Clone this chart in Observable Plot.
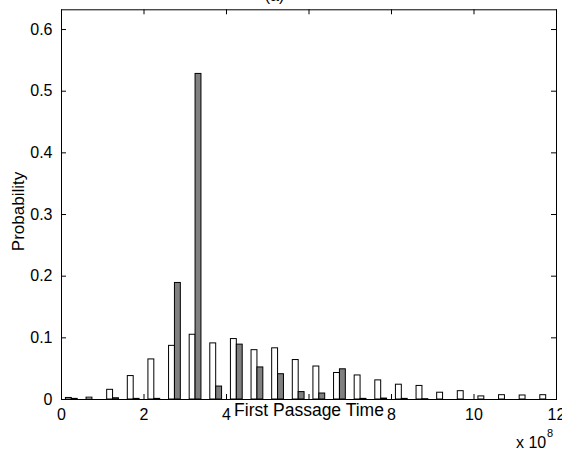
<!DOCTYPE html>
<html>
<head>
<meta charset="utf-8">
<script src="https://cdn.jsdelivr.net/npm/d3@7"></script>
<script src="https://cdn.jsdelivr.net/npm/@observablehq/plot@0.6"></script>
<style>
  html, body { margin: 0; padding: 0; background: white; }
</style>
</head>
<body>
<div id="chart"></div>
<script>
// Bin centers (units of 1e8)
const binCenters = [0.25, 0.75, 1.25, 1.75, 2.25, 2.75, 3.25, 3.75, 4.25, 4.75, 5.25, 5.75,
                    6.25, 6.75, 7.25, 7.75, 8.25, 8.75, 9.25, 9.75, 10.25, 10.75, 11.25, 11.75];
// White bars (series 1)
const whiteProb = [0.0025, 0.003, 0.0157, 0.038, 0.065, 0.087, 0.105, 0.091, 0.098, 0.080, 0.083, 0.064,
                   0.0535, 0.043, 0.039, 0.031, 0.024, 0.022, 0.011, 0.0135, 0.005, 0.007, 0.0065, 0.007];
// Gray bars (series 2)
const grayProb = [0.001, 0.0, 0.002, 0.001, 0.001, 0.189, 0.528, 0.021, 0.089, 0.052, 0.041, 0.012,
                  0.0097, 0.049, 0.001, 0.0015, 0.001, 0.0005, 0, 0, 0, 0, 0, 0];
const xTicks = [0, 2, 4, 6, 8, 10, 12];
// tick labels actually visible (the "6" is hidden under the axis label in the reference)
const xTickLabels = [0, 2, 4, 8, 10, 12];
const yTicks = [0, 0.1, 0.2, 0.3, 0.4, 0.5, 0.6];
const titleText = "(a)";
const xLabel = "First Passage Time";
const yLabel = "Probability";
const xExpBase = "x 10";
const xExpPow = "8";

const rows = binCenters.map((c, i) => ({c, white: whiteProb[i], gray: grayProb[i]}));

const W = 562, H = 455;
const mL = 61, mR = 6, mT = 9.3, mB = 56;
const plotW = W - mL - mR, plotH = H - mT - mB;
const barW = 0.1428; // width of each bar
const tickLen = 5;
const font = "'Liberation Sans', Arial, Helvetica, sans-serif";

const chart = Plot.plot({
  width: W, height: H,
  marginLeft: mL, marginRight: mR, marginTop: mT, marginBottom: mB,
  x: {domain: [0, 12]},
  y: {domain: [0, 0.632]},
  style: {fontFamily: font, fontSize: "16px", background: "white", color: "black", overflow: "visible"},
  marks: [
    Plot.rectY(rows, {x1: d => d.c - barW, x2: d => d.c, y: "white", fill: "white", stroke: "black", strokeWidth: 1}),
    Plot.rectY(rows, {x1: d => d.c, x2: d => d.c + barW, y: "gray", fill: "#808080", stroke: "black", strokeWidth: 1}),
    Plot.frame({stroke: "black", strokeWidth: 1}),
    // inward ticks
    Plot.tickX(xTicks, {x: d => d, insetTop: plotH - tickLen, stroke: "black"}),
    Plot.tickX(xTicks, {x: d => d, insetBottom: plotH - tickLen, stroke: "black"}),
    Plot.tickY(yTicks, {y: d => d, insetRight: plotW - tickLen, stroke: "black"}),
    Plot.tickY(yTicks, {y: d => d, insetLeft: plotW - tickLen, stroke: "black"}),
    Plot.axisX(xTickLabels, {tickSize: 0, tickPadding: 9, label: null, fontSize: 16, tickFormat: d => String(d)}),
    Plot.axisY(yTicks, {tickSize: 0, tickPadding: 9, label: null, fontSize: 16, tickFormat: d => d === 0 ? "0" : d.toFixed(1)}),
    Plot.text([titleText], {frameAnchor: "top-left", dx: 274 - mL, dy: -9, text: d => d, lineAnchor: "bottom", textAnchor: "middle", fontSize: 16}),
    Plot.text([xLabel], {frameAnchor: "bottom", dy: 4, text: d => d, lineAnchor: "top", textAnchor: "middle", fontSize: 17.5}),
    Plot.text([yLabel], {frameAnchor: "top-left", dx: 18 - mL, dy: 211 - mT, text: d => d, rotate: -90, lineAnchor: "middle", textAnchor: "middle", fontSize: 17}),
    Plot.text([xExpBase], {frameAnchor: "bottom-right", dx: -10.3, dy: 48, text: d => d, textAnchor: "end", lineAnchor: "bottom", fontSize: 16}),
    Plot.text([xExpPow], {frameAnchor: "bottom-right", dx: -9.5, dy: 37.5, text: d => d, textAnchor: "start", lineAnchor: "bottom", fontSize: 11})
  ]
});
document.getElementById("chart").appendChild(chart);
</script>
</body>
</html>
